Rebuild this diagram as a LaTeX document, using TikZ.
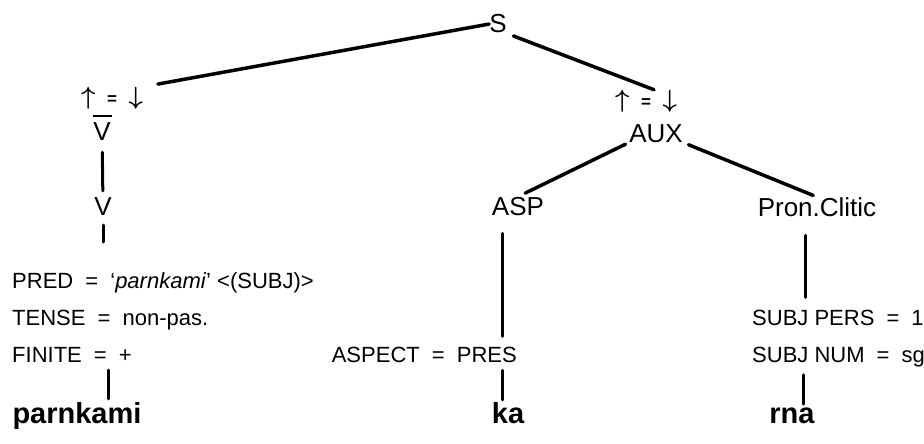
\documentclass[tikz,border=0pt]{standalone}
\usepackage{fontspec}
\setmainfont{Liberation Sans}
\tikzstyle{cat} = [inner sep=0pt, anchor=base, font=\fontsize{26}{30}\selectfont]
\tikzstyle{eqn} = [inner sep=0pt, font=\fontsize{26}{30}\selectfont\boldmath]
\tikzstyle{feat} = [inner sep=0pt, anchor=base west, font=\fontsize{22}{26}\selectfont]
\tikzstyle{word} = [inner sep=0pt, anchor=base, font=\fontsize{29}{33}\selectfont\bfseries]
\tikzstyle{branch} = [line width=3.5pt, line cap=round]
\tikzstyle{stem} = [line width=3pt, line cap=round]
\newcommand{\feq}{\hspace{0.55em}=\hspace{0.55em}}
\newcommand{\updown}{$\uparrow$\hspace{0.45em}{\fontsize{17}{17}\selectfont\bfseries=}\hspace{0.45em}$\downarrow$}
\newcommand{\barV}{\vbox{\offinterlineskip\hbox to 19pt{\rule{19pt}{2.5pt}}\kern5pt\hbox to 19pt{\hss V\hss}}}

\begin{document}
\begin{tikzpicture}[x=1pt,y=-1pt]
  \useasboundingbox (0,0) rectangle (924,444);
  % tree
  \node[cat] (S) at (498,33) {S};
  \node[eqn] (eqL) at (112,98) {\updown};
  \node[eqn] (eqR) at (646,101) {\updown};
  \node[cat] (Vbar) at (102,140) {\barV};
  \node[cat] (V) at (103,215) {V};
  \node[cat] (AUX) at (656,142) {AUX};
  \node[cat] (ASP) at (518,215) {ASP};
  \node[cat] (PC) at (817,216) {Pron.Clitic};
  \coordinate (Vtick) at (103,242);

  % lexical entries
  \node[feat] (fV1) at (12,288) {PRED\feq`\textit{parnkami}' <(SUBJ)>};
  \node[feat] (fV2) at (12,325) {TENSE\feq non-pas.};
  \node[feat] (fV3) at (12,362) {FINITE\feq +};
  \node[feat, anchor=base east] (fASP) at (517,362) {ASPECT\feq PRES};
  \node[feat] (fPC1) at (752,325) {SUBJ PERS\feq 1};
  \node[feat] (fPC2) at (752,362) {SUBJ NUM\feq sg};

  \node[word] (wV) at (77,423) {parnkami};
  \node[word] (wASP) at (508,423) {ka};
  \node[word] (wPC) at (792,423) {rna};

  \draw[branch, shorten >=15pt] (S.west) -- (eqL.north east);
  \draw[branch, shorten <=7pt] (S.south east) -- ([xshift=8pt]eqR.north);
  \draw[branch, shorten <=4pt, shorten >=8pt] (AUX.south west) -- (ASP.north);
  \draw[branch, shorten <=6pt, shorten >=4pt] (AUX.south east) -- (PC.north);
  \draw[stem, shorten <=12pt, shorten >=6pt] (Vbar) -- (V);
  \draw[stem, shorten <=10pt] (V.south) -- (Vtick);
  \draw[stem, shorten <=18pt, shorten >=10pt] ([xshift=-16pt]ASP.south) -- ([xshift=-16pt]ASP.south |- fASP.north);
  \draw[stem, shorten <=19pt, shorten >=12pt] ([xshift=-12pt]PC.south) -- ([xshift=-12pt]PC.south |- fPC1.north);
  \draw[stem, shorten <=8pt, shorten >=3pt] ([xshift=31pt]wV.north |- fV3.south) -- ([xshift=31pt]wV.north);
  \draw[stem, shorten <=8pt, shorten >=2pt] ([xshift=-6pt]wASP.north |- fASP.south) -- ([xshift=-6pt]wASP.north);
  \draw[stem, shorten <=8pt, shorten >=3pt] ([xshift=11pt]wPC.north |- fPC2.south) -- ([xshift=11pt]wPC.north);
\end{tikzpicture}
\end{document}
